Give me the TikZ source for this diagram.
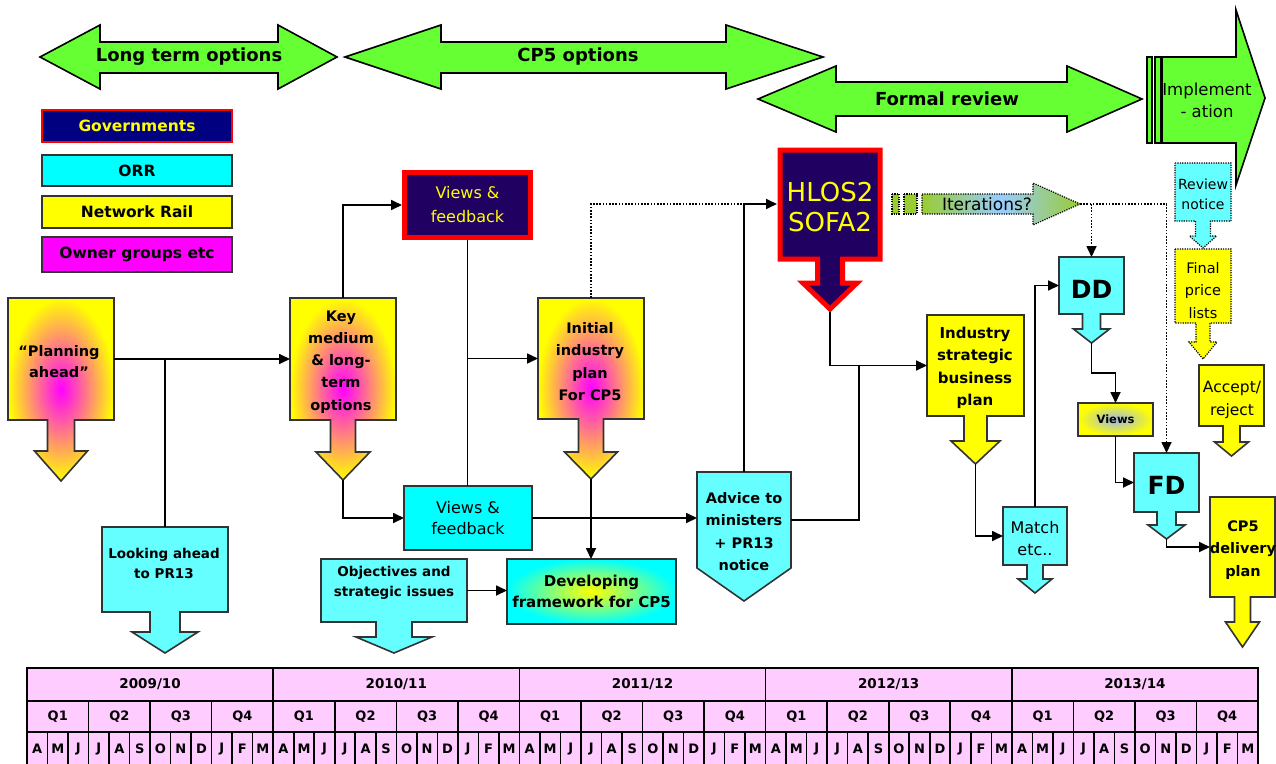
\documentclass[tikz,border=0pt]{standalone}
\usepackage{fontspec}
\setmainfont{DejaVu Sans}
\usetikzlibrary{arrows.meta,calc}
\definecolor{grn}{HTML}{66FF33}
\definecolor{navyb}{HTML}{000080}
\definecolor{indig}{HTML}{200060}
\definecolor{cyn}{HTML}{00FFFF}
\definecolor{lcyn}{HTML}{66FFFF}
\definecolor{ylw}{HTML}{FFFF00}
\definecolor{mag}{HTML}{FF00FF}
\definecolor{pnk}{HTML}{FFCCFF}
\definecolor{itg}{HTML}{99CC33}
\definecolor{itb}{HTML}{99CCFF}
\definecolor{vblue}{HTML}{9FB8E6}
\definecolor{bord}{HTML}{333333}
\newcommand\fsz[2]{\fontsize{#1}{#2}\selectfont}
% #1 style, #2 x1, #3 y1, #4 x2, #5 y2, #6 shaft half width, #7 head half width, #8 head base y, #9 tip y
\newcommand\dnarrow[9]{%
  \path[#1] (#2,#3) -- (#4,#3) -- (#4,#5)
    -- ({(#2+#4)/2+#6},#5) -- ({(#2+#4)/2+#6},#8)
    -- ({(#2+#4)/2+#7},#8) -- ({(#2+#4)/2},#9)
    -- ({(#2+#4)/2-#7},#8) -- ({(#2+#4)/2-#6},#8)
    -- ({(#2+#4)/2-#6},#5) -- (#2,#5) -- cycle;}
\tikzset{
 blk/.style={draw=bord, line width=1.6pt, line join=miter},
 grad/.style={shade, inner color=mag, outer color=ylw, blk},
 anc/.style={rectangle, inner sep=0pt, outer sep=0pt},
 tx/.style={align=center, inner sep=0pt, text=black},
 conn/.style={line width=1.7pt, -{Triangle[length=11pt,width=10pt]}},
 ln/.style={line width=1.7pt},
 dotl/.style={line width=1.6pt, dash pattern=on 1.6pt off 1.6pt},
 dconn/.style={dotl, -{Triangle[length=11pt,width=10pt]}},
 dotb/.style={draw=black, line width=1.2pt, dash pattern=on 1.2pt off 1.2pt},
 garrow/.style={fill=grn, draw=black, line width=1.6pt, line join=miter},
 leg/.style={rectangle, minimum width=190pt, draw=bord, line width=1.6pt, inner sep=0pt, font=\fsz{15.5}{18}\bfseries},
 tcell/.style={rectangle, draw=black, fill=pnk, line width=1.6pt, inner sep=0pt},
}
\begin{document}
\begin{tikzpicture}[x=1pt,y=-1pt]
\useasboundingbox[fill=white] (0,0) rectangle (1276,763);

% ---------- top phase arrows ----------
\path[garrow] (40,57) -- (100,25) -- (100,42) -- (278,42) -- (278,25) -- (337,57) -- (278,89) -- (278,73) -- (100,73) -- (100,89) -- cycle;
\node[tx, font=\fsz{18}{20}\bfseries] (lto) at (189,57) {Long term options};
\path[garrow] (345,57) -- (441,25) -- (441,42) -- (726,42) -- (726,25) -- (823,57) -- (726,89) -- (726,73) -- (441,73) -- (441,89) -- cycle;
\node[tx, font=\fsz{18}{20}\bfseries] (cpo) at (578,57) {CP5 options};
\path[garrow] (758,99) -- (836,66) -- (836,82) -- (1067,82) -- (1067,66) -- (1142,99) -- (1067,132) -- (1067,116) -- (836,116) -- (836,132) -- cycle;
\node[tx, font=\fsz{18}{20}\bfseries] (frv) at (947,99) {Formal review};
\path[garrow] (1147,57) rectangle (1152,143);
\path[garrow] (1155,57) rectangle (1161,143);
\path[garrow] (1162,57) -- (1236,57) -- (1236,10) -- (1265,98) -- (1236,185) -- (1236,143) -- (1162,143) -- cycle;
\node[tx, font=\fsz{16.5}{22}] (impl) at (1207,100) {Implement\\- ation};

% ---------- legend ----------
\node[leg, minimum height=32pt, fill=navyb, draw=red, text=ylw] (lgov) at (137,126) {Governments};
\node[leg, minimum height=31pt, fill=cyn] (lorr) at (137,170.5) {ORR};
\node[leg, minimum height=32pt, fill=ylw] (lnr) at (137,212) {Network Rail};
\node[leg, minimum height=35pt, fill=mag] (lown) at (137,254.5) {Owner groups etc};

% ---------- block arrows ----------
\dnarrow{grad}{8}{298}{114}{420}{13.5}{26.5}{451}{481}
\node[anc, minimum width=106pt, minimum height=122pt] (plan) at (61,359) {};
\node[tx, font=\fsz{14.5}{21}\bfseries] (plan-t) at (59,362) {“Planning\\ahead”};
\coordinate (plantip) at (61,481);

\dnarrow{grad}{290}{298}{396}{420}{12.5}{27}{452}{480}
\node[anc, minimum width=106pt, minimum height=122pt] (key) at (343,359) {};
\node[tx, font=\fsz{14.5}{22.2}\bfseries] (key-t) at (341,362) {Key\\medium\\\& long-\\term\\options};
\coordinate (keytip) at (343,480);

\dnarrow{grad}{538}{298}{644}{419}{12.5}{26.5}{452}{479}
\node[anc, minimum width=106pt, minimum height=121pt] (init) at (591,358.5) {};
\node[tx, font=\fsz{14.5}{22.3}\bfseries] (init-t) at (590,361.5) {Initial\\industry\\plan\\For CP5};
\coordinate (inittip) at (591,479);

\dnarrow{fill=lcyn, blk}{102}{527}{228}{612}{15}{33}{632}{653}
\node[anc, minimum width=126pt, minimum height=85pt] (look) at (165,569.5) {};
\node[tx, font=\fsz{13.5}{20}\bfseries] (look-t) at (164,563) {Looking ahead\\to PR13};

\dnarrow{fill=lcyn, blk}{321}{559}{467}{622}{18}{38}{637}{653}
\node[anc, minimum width=146pt, minimum height=63pt] (obj) at (394,590.5) {};
\node[tx, font=\fsz{13.5}{20}\bfseries] (obj-t) at (394,583) {Objectives and\\strategic issues};

\dnarrow{fill=indig, draw=red, line width=5pt, line join=miter}{780}{150}{880}{259}{12.5}{27}{283}{309}
\node[anc, minimum width=106pt, minimum height=114pt] (hlos) at (830,204) {};
\node[tx, text=ylw, font=\fsz{26}{30}] (hlos-t) at (830,207) {HLOS2\\SOFA2};
\coordinate (hlostip) at (830,312);

\dnarrow{fill=ylw, blk}{927}{315}{1024}{416}{11.5}{24.5}{441}{464}
\node[anc, minimum width=97pt, minimum height=101pt] (ind) at (975.5,365.5) {};
\node[tx, font=\fsz{15}{22.3}\bfseries] (ind-t) at (975,368) {Industry\\strategic\\business\\plan};
\coordinate (indtip) at (975.5,464);

\dnarrow{fill=lcyn, blk}{1003}{507}{1067}{565}{8}{17}{579}{593}
\node[anc, minimum width=64pt, minimum height=58pt] (match) at (1035,536) {};
\node[tx, font=\fsz{16}{22}] (match-t) at (1035,539) {Match\\etc..};

\dnarrow{fill=lcyn, blk}{1059}{257}{1124}{314}{9}{18}{329}{343}
\node[anc, minimum width=65pt, minimum height=57pt] (dd) at (1091.5,285.5) {};
\node[tx, font=\fsz{25}{28}\bfseries] (dd-t) at (1091.5,289) {DD};
\coordinate (ddtip) at (1091.5,343);

\dnarrow{fill=lcyn, blk}{1134}{453}{1199}{512}{9.5}{18.5}{525}{539}
\node[anc, minimum width=65pt, minimum height=59pt] (fd) at (1166.5,482.5) {};
\node[tx, font=\fsz{25}{28}\bfseries] (fd-t) at (1166.5,485) {FD};
\coordinate (fdtip) at (1166.5,539);

\dnarrow{fill=ylw, blk}{1210}{497}{1275}{597}{8}{17}{622}{647}
\node[anc, minimum width=65pt, minimum height=100pt] (cp5) at (1242.5,547) {};
\node[tx, font=\fsz{14.5}{22.5}\bfseries] (cp5-t) at (1243,550) {CP5\\delivery\\plan};

\dnarrow{fill=ylw, blk}{1199}{365}{1264}{426}{8.5}{17}{442}{456}
\node[anc, minimum width=65pt, minimum height=61pt] (acc) at (1231.5,395.5) {};
\node[tx, font=\fsz{15.5}{23}] (acc-t) at (1232,399.5) {Accept/\\reject};

\dnarrow{fill=lcyn, dotb}{1175}{163}{1231}{221}{7.5}{13.5}{236}{248}
\node[anc, minimum width=56pt, minimum height=58pt] (rev) at (1203,192) {};
\node[tx, font=\fsz{14}{20}] (rev-t) at (1203,194) {Review\\notice};

\dnarrow{fill=ylw, dotb}{1175}{249}{1231}{323}{7}{14}{342}{359}
\node[anc, minimum width=56pt, minimum height=74pt] (fin) at (1203,286) {};
\node[tx, font=\fsz{14.5}{22.5}] (fin-t) at (1203,290.5) {Final\\price\\lists};

% advice pentagon
\path[fill=lcyn, blk] (697,472) -- (791,472) -- (791,568) -- (744,601) -- (697,568) -- cycle;
\node[anc, minimum width=94pt, minimum height=96pt] (advice) at (744,520) {};
\node[tx, font=\fsz{14.5}{22.3}\bfseries] (advice-t) at (744,531.5) {Advice to\\ministers\\+ PR13\\notice};

% plain boxes
\node[anc, draw=red, line width=5pt, fill=indig, outer sep=2.5pt, minimum width=126pt, minimum height=65pt,
      text=ylw, align=center, font=\fsz{16}{24}] (vgov) at (467.5,205) {Views \&\\feedback};
\node[anc, fill=cyn, blk, minimum width=128pt, minimum height=64pt, align=center, font=\fsz{16}{21}] (vorr) at (468,518) {Views \&\\feedback};
\node[anc, shade, inner color=ylw, outer color=cyn, blk, minimum width=169pt, minimum height=65pt, align=center,
      font=\fsz{15}{21}\bfseries] (dev) at (591.5,591.5) {Developing\\framework for CP5};
\node[anc, shade, inner color=vblue, outer color=ylw, blk, minimum width=75pt, minimum height=33pt,
      font=\fsz{11.5}{13}\bfseries] (views) at (1115.5,419.5) {Views};

% iterations arrow
\path[fill=itg, dotb] (892,194) rectangle (899,214);
\path[fill=itg, dotb] (904,194) rectangle (917,214);
\path[shade, left color=itg, right color=itg, middle color=itb, dotb] (922,194) -- (1033,194) -- (1033,183) -- (1080,204) -- (1033,225) -- (1033,214) -- (922,214) -- cycle;
\node[tx, font=\fsz{17}{20}] (iter) at (987,204) {Iterations?};
\coordinate (ittip) at (1080,204);
\coordinate (advj) at (859,520);

% ---------- connectors ----------
\draw[conn] (plan.east) -- (key.west);
\draw[ln] (look.north) -- (look.north |- plan.east);
\draw[conn] (key.north) |- (vgov.west);
\draw[ln] (vgov.south) -- (vgov.south |- vorr.north);
\draw[conn] (vgov.south |- init.west) -- (init.west);
\draw[dotl] (init.north) |- (advice.north |- hlos.west);
\draw[conn] (advice.north) |- (hlos.west);
\draw[conn] (keytip) |- (vorr.west);
\draw[conn] (vorr.east) -- (vorr.east -| advice.west);
\draw[conn] (inittip) -- (inittip |- dev.north);
\draw[conn] (obj.east) -- (obj.east -| dev.west);
\draw[conn] (hlostip) |- (ind.west);
\draw[ln] (advice.east) -- (advj) -- (advj |- ind.west);
\draw[conn] (indtip) |- (match.west);
\draw[conn] (match.north) |- (dd.west);
\draw[dconn] (ittip) -| (fd.north);
\draw[dconn] (dd.north |- ittip) -- (dd.north);
\draw[conn] (ddtip) |- ($(ddtip)!.5!(views.north)$) -| (views.north);
\draw[conn] (views.south) |- (fd.west);
\draw[conn] (fdtip) |- (cp5.west);

% ---------- timeline ----------
\foreach \i in {0,...,4}{
  \pgfmathtruncatemacro\ya{2009+\i}
  \pgfmathtruncatemacro\yb{10+\i}
  \node[tcell, minimum width=246.2pt, minimum height=33pt, font=\fsz{13.5}{15}\bfseries] (yr\i) at ({27+(\i+0.5)*246.2},684.5) {\ya/\yb};
}
\foreach \q in {0,...,19}{
  \pgfmathtruncatemacro\qn{mod(\q,4)+1}
  \node[tcell, minimum width=61.55pt, minimum height=31pt, font=\fsz{13}{14}\bfseries] (q\q) at ({27+(\q+0.5)*61.55},716.5) {Q\qn};
}
\foreach \y in {0,...,4}{
  \foreach \m [count=\c from 0] in {A,M,J,J,A,S,O,N,D,J,F,M}{
    \node[tcell, minimum width=20.517pt, minimum height=34pt, font=\fsz{13}{14}\bfseries] (m\y-\c) at ({27+(\y*12+\c+0.5)*20.517},749) {\m};
  }
}
\end{tikzpicture}
\end{document}
